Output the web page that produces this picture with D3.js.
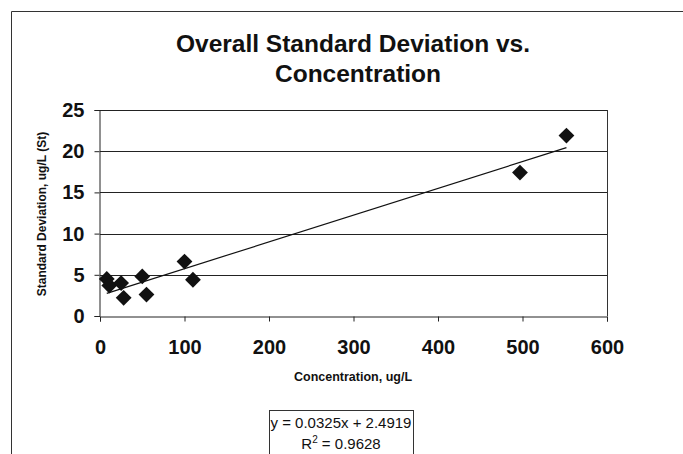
<!DOCTYPE html>
<html>
<head>
<meta charset="utf-8">
<script src="https://cdn.jsdelivr.net/npm/d3@7"></script>
<style>
  body { margin: 0; background: #fff; }
  text { font-family: "Liberation Sans", Arial, sans-serif; fill: #111; }
</style>
</head>
<body>
<script>
// data
const concentration = [8, 11, 25, 28, 50, 55, 100, 110, 497, 552];
const stdDev = [4.5, 3.7, 4.0, 2.2, 4.8, 2.6, 6.6, 4.4, 17.4, 21.9];
const xTicks = [0, 100, 200, 300, 400, 500, 600];
const yTicks = [0, 5, 10, 15, 20, 25];
const slope = 0.0325;
const intercept = 2.4919;
const rSquared = "0.9628";

const width = 683, height = 454;
const plot = { left: 100, right: 607, top: 110, bottom: 316 };

const svg = d3.select("body").append("svg")
    .attr("width", width)
    .attr("height", height);

// outer chart frame (only top and left visible)
svg.append("path")
    .attr("d", `M11.5,${height} L11.5,11.5 L${width},11.5`)
    .attr("fill", "none")
    .attr("stroke", "#333")
    .attr("stroke-width", 1);

const x = d3.scaleLinear()
    .domain([0, 600])
    .range([plot.left, plot.right]);

const y = d3.scaleLinear()
    .domain([0, 25])
    .range([plot.bottom, plot.top]);

// gridlines
svg.append("g")
    .selectAll("line")
    .data(yTicks.filter(d => d > 0))
    .join("line")
    .attr("x1", plot.left)
    .attr("x2", plot.right)
    .attr("y1", d => Math.round(y(d)) + 0.5)
    .attr("y2", d => Math.round(y(d)) + 0.5)
    .attr("stroke", "#222")
    .attr("stroke-width", 1);

// plot area right border
svg.append("line")
    .attr("x1", plot.right + 0.5).attr("x2", plot.right + 0.5)
    .attr("y1", plot.top).attr("y2", plot.bottom)
    .attr("stroke", "#333");

const xAxis = svg.append("g")
    .attr("transform", `translate(0,${Math.round(plot.bottom) + 0.5})`)
    .call(d3.axisBottom(x).tickValues(xTicks).tickSize(5).tickPadding(18));

const yAxis = svg.append("g")
    .attr("transform", `translate(${plot.left - 0.5},0)`)
    .call(d3.axisLeft(y).tickValues(yTicks).tickSize(5).tickPadding(10));

[xAxis, yAxis].forEach(a => {
    a.select(".domain").attr("stroke", "#222");
    a.selectAll(".tick line").attr("stroke", "#222");
    a.selectAll(".tick text")
        .attr("font-family", "'Liberation Sans', Arial, sans-serif")
        .attr("font-size", 20)
        .attr("font-weight", "bold")
        .attr("fill", "#111");
});

// trendline across the data range
const xExtent = d3.extent(concentration);
svg.append("line")
    .attr("x1", x(xExtent[0]))
    .attr("y1", y(slope * xExtent[0] + intercept))
    .attr("x2", x(xExtent[1]))
    .attr("y2", y(slope * xExtent[1] + intercept))
    .attr("stroke", "#111")
    .attr("stroke-width", 1.2);

// diamond markers
const diamond = d3.symbol(d3.symbolSquare, 125);
svg.append("g")
    .selectAll("path")
    .data(concentration)
    .join("path")
    .attr("d", diamond)
    .attr("transform", (d, i) => `translate(${x(d)},${y(stdDev[i])}) rotate(45)`)
    .attr("fill", "#111");

// title
const title = svg.append("text")
    .attr("text-anchor", "middle")
    .attr("font-size", 24.5)
    .attr("font-weight", "bold");
title.append("tspan").attr("x", 353).attr("y", 52).text("Overall Standard Deviation vs.");
title.append("tspan").attr("x", 358).attr("y", 82).text("Concentration");

// axis titles
svg.append("text")
    .attr("x", 353)
    .attr("y", 381)
    .attr("text-anchor", "middle")
    .attr("font-size", 12.5)
    .attr("font-weight", "bold")
    .text("Concentration, ug/L");

svg.append("text")
    .attr("transform", "translate(46,214) rotate(-90)")
    .attr("text-anchor", "middle")
    .attr("font-size", 12)
    .attr("font-weight", "bold")
    .text("Standard Deviation, ug/L (St)");

// equation box
svg.append("rect")
    .attr("x", 269.5).attr("y", 410.5)
    .attr("width", 144).attr("height", 60)
    .attr("fill", "none")
    .attr("stroke", "#333");

svg.append("text")
    .attr("x", 341).attr("y", 428)
    .attr("text-anchor", "middle")
    .attr("font-size", 15)
    .text(`y = ${slope}x + ${intercept}`);

const r2 = svg.append("text")
    .attr("x", 341).attr("y", 449)
    .attr("text-anchor", "middle")
    .attr("font-size", 15);
r2.append("tspan").text("R");
r2.append("tspan").attr("font-size", 10).attr("dy", -6).text("2");
r2.append("tspan").attr("dy", 6).text(" = " + rSquared);
</script>
</body>
</html>
